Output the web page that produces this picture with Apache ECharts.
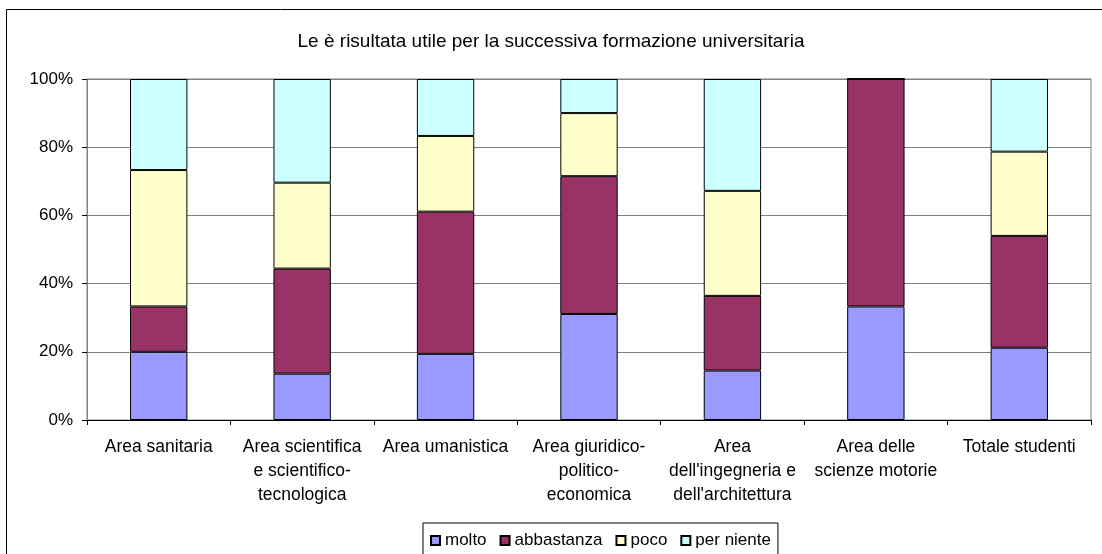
<!DOCTYPE html>
<html lang="it">
<head>
    <meta charset="UTF-8">
    <title>Formazione universitaria</title>
    <style>
        html, body { margin: 0; padding: 0; background: white; }
        #fig { width: 1102px; height: 554px; }
    </style>
    <script src="https://cdn.jsdelivr.net/npm/echarts@6/dist/echarts.min.js"></script>
</head>
<body>
<div id="fig"></div>
<script>
    // categorie e valori (%)
    const categories = [
        'Area sanitaria',
        'Area scientifica\ne scientifico-\ntecnologica',
        'Area umanistica',
        'Area giuridico-\npolitico-\neconomica',
        'Area\ndell\'ingegneria e\ndell\'architettura',
        'Area delle\nscienze motorie',
        'Totale studenti'
    ];
    const molto = [20.0, 13.6, 19.4, 31.1, 14.5, 33.3, 21.2];
    const abbastanza = [13.3, 30.8, 41.7, 40.4, 21.9, 66.7, 32.8];
    const poco = [40.0, 25.2, 22.2, 18.5, 30.8, 0, 24.7];
    const perNiente = [26.7, 30.4, 16.7, 10.0, 32.8, 0, 21.3];
    const yTicks = [0, 20, 40, 60, 80, 100];

    const font = 'Liberation Sans, Arial, sans-serif';
    const fig = echarts.init(document.getElementById('fig'), null, {renderer: 'canvas'});

    function bar(name, data, color) {
        return {
            name: name,
            type: 'bar',
            stack: 'tot',
            data: data,
            barWidth: '40%',
            itemStyle: {color: color, borderColor: '#000', borderWidth: 1},
            emphasis: {disabled: true}
        };
    }

    fig.setOption({
        animation: false,
        backgroundColor: '#fff',
        textStyle: {fontFamily: font, color: '#000'},
        title: {
            text: 'Le è risultata utile per la successiva formazione universitaria',
            left: 'center',
            top: 27,
            textStyle: {fontFamily: font, fontSize: 19, fontWeight: 'normal', color: '#000'}
        },
        graphic: [{
            type: 'rect',
            shape: {x: 6.5, y: 9.5, width: 1300, height: 700},
            style: {fill: 'none', stroke: '#000', lineWidth: 1},
            silent: true
        }],
        legend: {
            left: 423,
            top: 523,
            padding: [9, 7, 30, 7],
            itemGap: 13,
            itemWidth: 9,
            itemHeight: 9,
            icon: 'rect',
            borderColor: '#000',
            borderWidth: 1,
            textStyle: {fontFamily: font, fontSize: 17, color: '#000'}
        },
        grid: {
            left: 87, right: 11, top: 79, bottom: 134,
            show: true, borderColor: '#808080', borderWidth: 1
        },
        xAxis: {
            type: 'category',
            data: categories,
            axisLine: {lineStyle: {color: '#000'}},
            axisTick: {show: true, length: 5, lineStyle: {color: '#000'}},
            axisLabel: {
                interval: 0, margin: 15, fontSize: 17.5, lineHeight: 24,
                color: '#000', fontFamily: font, align: 'center'
            }
        },
        yAxis: {
            type: 'value',
            min: yTicks[0],
            max: yTicks[yTicks.length - 1],
            interval: 20,
            axisLine: {show: true, lineStyle: {color: '#808080'}},
            axisTick: {show: true, length: 5, lineStyle: {color: '#000'}},
            axisLabel: {formatter: '{value}%', fontSize: 17, margin: 14, color: '#000', fontFamily: font},
            splitLine: {lineStyle: {color: '#808080', width: 1}}
        },
        series: [
            bar('molto', molto, '#9999FF'),
            bar('abbastanza', abbastanza, '#993366'),
            bar('poco', poco, '#FFFFCC'),
            bar('per niente', perNiente, '#CCFFFF')
        ]
    });
</script>
</body>
</html>
